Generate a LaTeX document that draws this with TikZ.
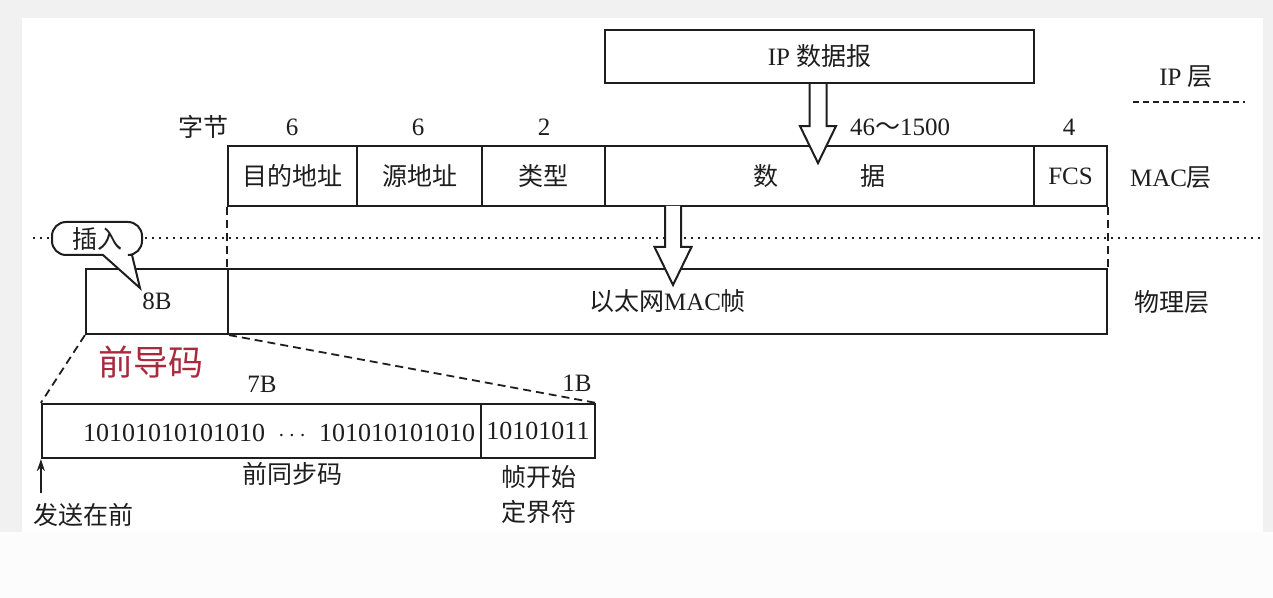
\documentclass[tikz,border=0pt]{standalone}
\usepackage{fontspec}
\setmainfont{Liberation Serif}
\newfontfamily\cjk{Noto Sans CJK SC}
\usetikzlibrary{calc,arrows.meta}
\definecolor{bgray}{HTML}{F1F1F1}
\definecolor{ink}{HTML}{1E1E1E}
\definecolor{redtxt}{HTML}{A82A3C}
\begin{document}
\begin{tikzpicture}[x=0.5pt,y=-0.5pt,
  every node/.style={text=ink,font=\fontsize{12.5}{14}\selectfont},
  field/.style={draw=ink,line width=1.1pt,inner sep=0pt},
  lbl/.style={inner sep=0pt},
  dsh/.style={draw=ink,line width=0.9pt,dash pattern=on 4pt off 2.5pt},
  dots/.style={draw=ink,line width=0.9pt,dash pattern=on 0.9pt off 2.6pt},
  hollow/.style={draw=ink,line width=1pt,fill=white,line join=miter}]
% background
\fill[bgray] (0,0) rectangle (1273,598);
\fill[white] (22,18) rectangle (1263,532);
\fill[white!98!gray] (0,532) rectangle (1273,598);
\useasboundingbox (0,0) rectangle (1273,598);

% IP datagram
\node[field,minimum width=214.5pt,minimum height=26.5pt] (ip) at (819.5,56.5) {IP {\cjk 数据报}};
\node[lbl] (iplayer) at (1186,77) {IP {\cjk 层}};
\coordinate (ipl1) at (1133,102);
\coordinate (ipl2) at (1245,102);
\draw[dsh,dash pattern=on 3pt off 2pt] (ipl1) -- (ipl2);

% byte counts
\node[lbl] (bytes) at (203,127) {\cjk 字节};
\node[lbl] (n1) at (292,127) {6};
\node[lbl] (n2) at (418,127) {6};
\node[lbl] (n3) at (544,127) {2};
\node[lbl] (n4) at (900,127) {46{\cjk ～}1500};
\node[lbl] (n5) at (1069,127) {4};

% MAC frame
\node[field,minimum width=64.5pt,minimum height=30pt] (dst) at (292.5,176) {\cjk 目的地址};
\node[field,minimum width=62.5pt,minimum height=30pt] (src) at (419.5,176) {\cjk 源地址};
\node[field,minimum width=61.5pt,minimum height=30pt] (typ) at (543.5,176) {\cjk 类型};
\node[field,minimum width=214.5pt,minimum height=30pt] (data) at (819.5,176) {\cjk 数\hspace{41pt}据};
\node[field,minimum width=36.5pt,minimum height=30pt] (fcs) at (1070.5,176) {FCS};
\node[lbl] (maclayer) at (1171,178) {MAC{\cjk 层}};

% physical layer
\node[field,minimum width=71pt,minimum height=32.5pt] (pre) at (157,301.5) {8B};
\node[field,minimum width=439.5pt,minimum height=32.5pt] (frame) at (667.5,301.5) {{\cjk 以太网}MAC{\cjk 帧}};
\node[lbl] (phylayer) at (1172,302) {\cjk 物理层};

% dashed verticals and dotted separator
\draw[dsh] (dst.south west) -- (frame.north west);
\draw[dsh] (fcs.south east) -- (frame.north east);
\coordinate (dl) at (33,238);
\coordinate (dr) at (1260,238);
\draw[dots] (dl) -- (dr);

% hollow arrows
\coordinate (a1tip) at ($(ip.south)+(-1.5,79)$);
\draw[hollow] ($(ip.south)+(-10,0)$) -- ($(a1tip)+(-8.5,-37)$) -- ($(a1tip)+(-18,-37)$) -- (a1tip)
  -- ($(a1tip)+(18,-37)$) -- ($(a1tip)+(8.5,-37)$) -- ($(ip.south)+(7,0)$);
\coordinate (a2top) at (673,206);
\coordinate (a2tip) at (673,285);
\draw[hollow] ($(a2top)+(-8,0)$) -- ($(a2tip)+(-8,-38)$) -- ($(a2tip)+(-18.5,-38)$) -- (a2tip)
  -- ($(a2tip)+(18.5,-38)$) -- ($(a2tip)+(8,-38)$) -- ($(a2top)+(8,0)$);

% callout
\draw[draw=ink,line width=1pt,fill=white] (103,255) [rounded corners=7pt] -- (52,255) -- (52,222) -- (142,222) -- (142,255) [sharp corners] -- (132,255) -- (140,288) -- cycle;
\node[lbl] (ins) at (97,239) {\cjk 插入};

% preamble label
\node[lbl,text=redtxt,font=\fontsize{17.5}{20}\selectfont] (pream) at (151,362) {\cjk 前导码};

% preamble detail
\node[lbl] (b7) at (262,384) {7B};
\node[lbl] (b1) at (577,383) {1B};
\node[field,minimum width=219.5pt,minimum height=27pt] (sync) at (261.5,431) {};
\node[field,minimum width=57pt,minimum height=27pt,font=\fontsize{13}{15}\selectfont] (sfd) at (538,431) {10101011};
\node[lbl,font=\fontsize{13}{15}\selectfont] (bits) at (279,433) {10101010101010\ \ $\cdots$\ \ 101010101010};
\draw[dsh] (pre.south west) -- (sync.north west);
\draw[dsh] (pre.south east) -- (sfd.north east);

\node[lbl] (syncl) at (292,474) {\cjk 前同步码};
\node[lbl,align=center,font=\fontsize{12.5}{17.5}\selectfont] (sfdl) at (539,495) {\cjk 帧开始\\\cjk 定界符};
\node[lbl] (send) at (83,515) {\cjk 发送在前};
\coordinate (sendfoot) at ($(sync.south west)+(0,34)$);
\draw[draw=ink,line width=0.8pt,-{Stealth[length=6pt,width=4pt]}] (sendfoot) -- (sync.south west);
\end{tikzpicture}
\end{document}
